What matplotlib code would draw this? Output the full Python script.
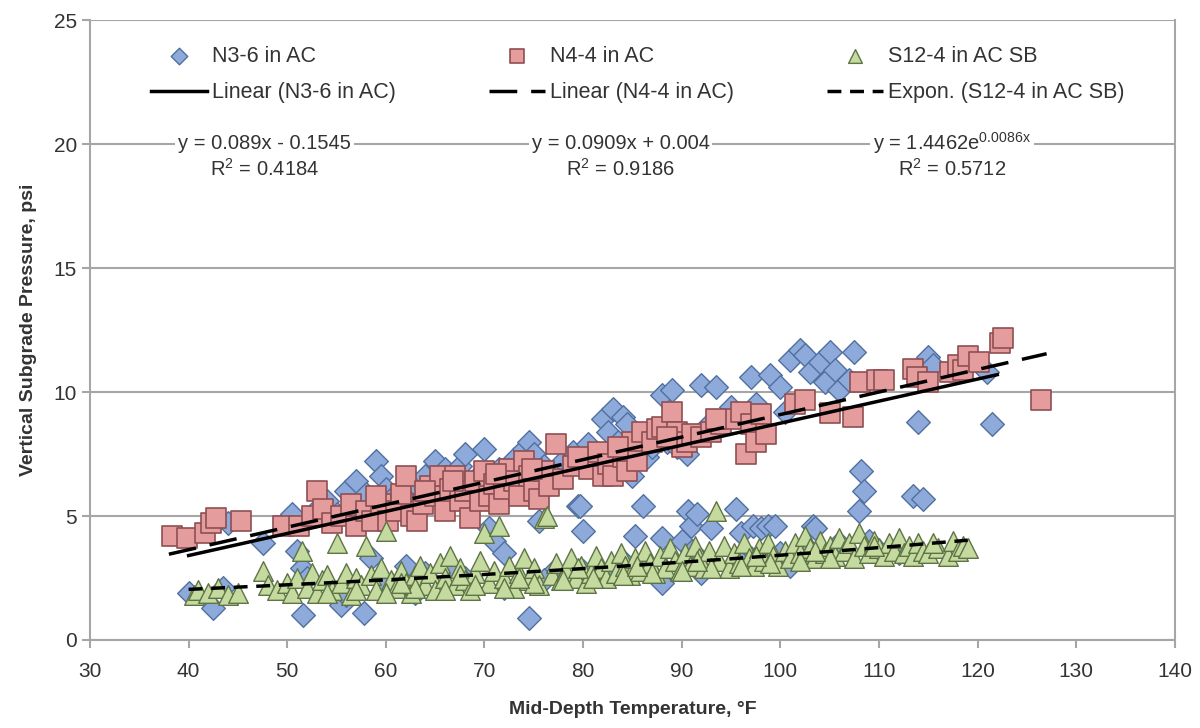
import matplotlib
matplotlib.use("Agg")
import matplotlib.pyplot as plt
import numpy as np

plt.rcParams['font.family'] = ['Liberation Sans', 'DejaVu Sans']
plt.rcParams['mathtext.fontset'] = 'custom'
plt.rcParams['mathtext.rm'] = 'Liberation Sans'
plt.rcParams['mathtext.it'] = 'Liberation Sans'

# ---------------- data ----------------
n36_x = [40, 42.5, 43.5, 44, 47.5, 50.5, 51, 51.5, 51.6, 52, 53, 54, 55, 55.5, 56, 57, 57.8, 58, 58.5, 59,
         59.5, 60, 60.5, 61, 62, 62, 63, 64, 64, 65, 66, 66.5, 67, 67.5, 68, 68.5, 69, 70, 70.5, 71,
         71.5, 72, 72.5, 73, 73.5, 74, 74.5, 74.5, 75, 75.5, 76, 76.5, 77, 78, 79, 79.5, 79.7, 80, 80, 80.5,
         81, 82, 82.5, 83, 83.5, 84, 84, 84.5, 85, 85.3, 85.5, 86.1, 86.5, 87, 88, 88, 88, 88.5, 89, 89.5,
         90, 90, 90.5, 90.6, 90.9, 91, 91.5, 92, 92.5, 93, 93.5, 94, 95, 95.5, 96, 97, 97, 97.2, 97.5, 98,
         98.7, 99, 99.5, 100, 100, 100.5, 101, 102, 102.5, 103, 103, 103.3, 103.5, 104, 104.5, 105, 105.5, 106, 106,
         107, 107.5, 108, 108.2, 108.5, 109, 113.5, 114, 114.5, 115, 115.5, 121, 121.5,
         56, 60, 63, 68, 72, 76, 82, 86, 92, 96, 101, 105, 110, 112]
n36_y = [1.9, 1.3, 2.1, 4.7, 3.9, 5.1, 3.6, 2.9, 1.0, 2.5, 5.3, 5.6, 5.1, 1.4, 6.0, 6.4, 1.1, 5.9, 3.3, 7.2,
         6.6, 6.1, 5.7, 2.2, 5.9, 3.0, 6.3, 6.6, 2.7, 7.2, 6.9, 3.0, 6.2, 7.0, 7.5, 5.5, 6.5, 7.7, 4.5, 4.0,
         6.9, 3.5, 6.5, 7.3, 6.7, 7.7, 0.9, 8.0, 7.5, 4.8, 7.0, 6.3, 2.8, 7.2, 7.6, 5.4, 5.4, 4.4, 2.8, 7.9,
         7.4, 8.9, 8.4, 9.3, 8.0, 9.0, 3.2, 8.7, 6.6, 4.2, 8.1, 5.4, 7.4, 7.8, 9.9, 4.1, 2.3, 8.0, 10.1, 7.8,
         4.0, 3.0, 7.5, 5.2, 4.6, 3.6, 5.1, 10.3, 8.6, 4.5, 10.2, 8.8, 9.4, 5.3, 4.3, 10.6, 3.3, 4.6, 9.5, 4.5,
         4.6, 10.7, 4.6, 10.2, 3.5, 9.2, 11.3, 11.7, 11.5, 10.8, 3.6, 4.6, 4.5, 11.2, 10.4, 11.6, 10.9, 10.1, 3.9,
         10.5, 11.6, 5.2, 6.8, 6.0, 4.0, 5.8, 8.8, 5.7, 11.4, 11.1, 10.8, 8.7,
         1.8, 2.3, 1.9, 2.5, 2.1, 2.4, 2.6, 2.9, 2.7, 3.1, 3.0, 3.4, 3.6, 3.5]

n44_x = [38.3, 39.8, 41.7, 42.3, 42.8, 45.3, 49.6, 51.2, 52.5, 53.0, 53.6, 54.5, 55.5, 56.5, 57.0, 58.0,
         58.6, 59.5, 60.2, 61.0, 61.5, 62.0, 62.5, 63.2, 63.8, 64.5, 65.0, 65.5, 66.0, 66.5, 67.0, 67.5,
         68.0, 68.5, 69.0, 69.5, 70.0, 70.5, 71.0, 71.5, 72.0, 72.5, 73.0, 73.5, 74.0, 74.5, 75.0, 75.5,
         76.0, 76.5, 77.3, 78.0, 79.0, 80.0, 80.6, 81.5, 82.0, 82.5, 83.0, 84.0, 84.5, 85.0, 85.5, 86.0,
         87.0, 87.5, 88.0, 89.0, 89.5, 90.0, 90.5, 91.0, 92.0, 93.0, 94.0, 95.0, 96.0, 96.5, 97.0, 97.5,
         98.0, 98.5, 101.5, 102.5, 105.0, 107.4, 108.1, 109.8, 110.5, 113.5, 113.9, 115.0, 117.2, 118.0,
         118.5, 119.0, 120.1, 122.3, 122.6, 126.4,
         59.0, 64.0, 66.8, 71.2, 74.8, 79.5, 83.5, 88.5, 93.5]
n44_y = [4.2, 4.1, 4.3, 4.7, 4.9, 4.8, 4.6, 4.6, 5.0, 6.0, 5.3, 4.7, 5.0, 5.5, 4.6, 5.2,
         4.8, 5.5, 4.8, 5.2, 5.9, 6.6, 5.0, 4.8, 5.5, 6.2, 5.8, 6.6, 5.2, 6.1, 6.6, 5.6,
         6.0, 4.9, 6.4, 5.6, 6.8, 5.8, 6.3, 5.5, 6.1, 6.9, 6.4, 5.8, 7.2, 6.6, 6.0, 5.7,
         6.8, 6.2, 7.9, 6.5, 7.0, 7.3, 6.9, 7.6, 6.6, 7.1, 6.6, 7.4, 6.8, 8.0, 7.2, 8.4,
         8.0, 8.5, 8.6, 9.2, 8.4, 7.8, 8.0, 8.3, 8.2, 8.4, 8.7, 8.9, 9.2, 7.5, 8.7, 8.0,
         9.1, 8.3, 9.5, 9.7, 9.15, 9.0, 10.4, 10.5, 10.5, 10.95, 10.6, 10.4, 10.8, 11.1,
         10.9, 11.45, 11.2, 12.0, 12.2, 9.7,
         5.8, 6.0, 6.4, 6.7, 6.9, 7.4, 7.8, 8.2, 8.9]

s124_x = [40.5, 41, 42, 43, 44, 45, 47.5, 48, 49, 50, 50.5, 51, 51.5, 52, 52.5, 53, 53.5, 54, 54.5, 55,
          55.5, 56, 56.5, 57, 57.5, 58, 58.5, 59, 59.5, 60, 60.5, 61, 61.5, 62, 62.5, 63, 63.5, 64, 64.5, 65,
          65.5, 66, 66.5, 67, 67.5, 68, 68.5, 69, 69.5, 70, 70.5, 71, 71.5, 72, 72.5, 73, 73.5, 74, 74.5, 75,
          75.5, 76, 76.3, 76.8, 77.3, 77.8, 78.3, 78.8, 79.3, 79.8, 80.3, 80.8, 81.3, 81.8, 82.3, 82.8, 83.3,
          83.8, 84.3, 84.8, 85.3, 85.8, 86.3, 86.8, 87.3, 87.8, 88.3, 88.8, 89.3, 89.8, 90.3, 90.8, 91.3, 91.8,
          92.3, 92.8, 93.5, 93.8, 94.3, 94.8, 95.3, 95.8, 96.3, 96.8, 97.3, 97.8, 98.3, 98.8, 99.3, 99.8,
          100.5, 101, 101.5, 102, 102.5, 103, 103.5, 104, 104.5, 105, 105.5, 106, 106.5, 107, 107.5, 108,
          108.5, 109, 109.5, 110, 110.5, 111, 111.5, 112, 112.5, 113, 113.5, 114, 114.5, 115, 116, 117,
          117.5, 118, 118.5, 119,
          54, 57, 60, 63, 66, 69, 72, 75, 78, 81, 84, 87, 90, 93, 96, 99, 102, 105,
          61.5, 67.5, 73.5, 79.5, 85.5, 91.5, 97.5, 103.5, 109.5, 115.5]
s124_y = [1.8, 2.0, 1.9, 2.1, 1.8, 1.9, 2.8, 2.2, 2.0, 2.3, 1.9, 2.5, 3.6, 2.1, 2.7, 1.9, 2.4, 2.6, 2.0, 3.9,
          2.3, 2.7, 1.8, 2.5, 2.2, 3.8, 2.6, 2.0, 2.9, 4.4, 2.4, 2.1, 2.8, 2.3, 1.9, 2.6, 3.0, 2.2, 2.7, 2.0,
          3.1, 2.5, 3.4, 2.2, 2.9, 2.4, 2.0, 2.7, 3.2, 4.3, 2.3, 2.8, 4.6, 2.5, 3.0, 2.1, 2.7, 3.3, 2.4, 2.9,
          2.2, 4.9, 5.0, 2.6, 3.1, 2.4, 2.8, 3.3, 2.5, 3.0, 2.3, 2.7, 3.4, 2.9, 2.5, 3.2, 2.7,
          3.5, 3.0, 2.6, 3.3, 2.8, 3.6, 3.1, 2.7, 3.4, 2.9, 3.7, 3.2, 2.8, 3.5, 3.0, 3.8, 3.3,
          2.9, 3.6, 5.2, 3.2, 3.8, 2.9, 3.5, 3.1, 3.9, 3.3, 3.0, 3.7, 3.2, 3.9, 3.4, 3.0,
          3.6, 3.3, 3.9, 3.5, 4.2, 3.7, 3.3, 4.0, 3.5, 3.8, 3.4, 4.1, 3.6, 3.9, 3.3, 4.3,
          3.8, 3.5, 4.0, 3.7, 3.4, 3.9, 3.6, 4.1, 3.5, 3.8, 3.4, 3.9, 3.6, 3.5, 3.7, 3.4,
          4.0, 3.6, 3.8, 3.7,
          1.9, 2.0, 1.9, 2.1, 2.0, 2.2, 2.1, 2.3, 2.4, 2.5, 2.6, 2.7, 2.8, 2.9, 3.0, 3.1, 3.2, 3.3,
          2.3, 2.6, 2.5, 2.9, 3.0, 3.2, 3.4, 3.6, 3.8, 3.9]

# trendline coefficients (from the equations shown) and ranges
lin36 = [0.089, -0.1545]
lin44 = [0.0909, 0.004]
exp124 = [1.4462, 0.0086]
rng36 = [40, 122]
rng44 = [38, 127]
rng124 = [40, 119]

# ---------------- figure ----------------
fig = plt.figure(figsize=(12, 7.28), dpi=100)
ax = fig.add_axes([0.075, 0.121, 0.904, 0.851])

grid_c = '#A6A6A6'
txt_c = '#333333'
ax.set_xlim(30, 140)
ax.set_ylim(0, 25)
ax.set_xticks(np.arange(30, 141, 10))
ax.set_yticks(np.arange(0, 26, 5))
ax.yaxis.grid(True, color=grid_c, linewidth=1.5, zorder=0)
ax.set_axisbelow(True)
for s in ['left', 'bottom', 'right']:
    ax.spines[s].set_color(grid_c)
    ax.spines[s].set_linewidth(1.5)
ax.spines['top'].set_visible(False)
ax.tick_params(axis='both', colors=grid_c, labelcolor=txt_c, labelsize=15, length=6, width=1.5)
ax.tick_params(axis='x', pad=10)

h1 = ax.scatter(n36_x, n36_y, marker='D', s=145, facecolor='#8EAADB', edgecolor='#50709F',
                linewidth=1, zorder=3, label='N3-6 in AC')
h2 = ax.scatter(n44_x, n44_y, marker='s', s=210, facecolor='#E59C9C', edgecolor='#8E4F52',
                linewidth=1.2, zorder=4, label='N4-4 in AC')
h3 = ax.scatter(s124_x, s124_y, marker='^', s=200, facecolor='#C4DA9E', edgecolor='#5F7446',
                linewidth=1, zorder=5, label='S12-4 in AC SB')

x1 = np.linspace(rng36[0], rng36[1], 50)
l1, = ax.plot(x1, lin36[0] * x1 + lin36[1], color='black', lw=2.5, zorder=6,
              label='Linear (N3-6 in AC)')
x2 = np.linspace(rng44[0], rng44[1], 50)
l2, = ax.plot(x2, lin44[0] * x2 + lin44[1], color='black', lw=2.5, dashes=(8, 4), zorder=6,
              label='Linear (N4-4 in AC)')
x3 = np.linspace(rng124[0], rng124[1], 200)
l3, = ax.plot(x3, exp124[0] * np.exp(exp124[1] * x3), color='black', lw=2.5, dashes=(4, 2.5),
              zorder=6, label='Expon. (S12-4 in AC SB)')

leg = fig.legend(handles=[h1, l1, h2, l2, h3, l3], ncol=3, loc='upper left',
                 bbox_to_anchor=(151 / 1200, 1 - 46 / 728), frameon=False, fontsize=15.5,
                 columnspacing=4.3, handlelength=2.6, handletextpad=0.25, labelspacing=0.7,
                 borderpad=0, borderaxespad=0, scatterpoints=1, markerscale=0.7)
for t in leg.get_texts():
    t.set_color(txt_c)

bb = dict(facecolor='white', edgecolor='none', pad=2)
eqs = [(47.7, 'y = 0.089x - 0.1545', 'R$^2$ = 0.4184'),
       (83.8, 'y = 0.0909x + 0.004', 'R$^2$ = 0.9186'),
       (117.4, 'y = 1.4462e$^{0.0086x}$', 'R$^2$ = 0.5712')]
for xc, e, r in eqs:
    ax.text(xc, 20.05, e, ha='center', va='center', fontsize=14.5, color=txt_c, bbox=bb, zorder=7)
    ax.text(xc, 19.0, r, ha='center', va='center', fontsize=14.5, color=txt_c, zorder=7)

ax.set_xlabel('Mid-Depth Temperature, °F', fontsize=14, fontweight='bold', color=txt_c, labelpad=14)
ax.set_ylabel('Vertical Subgrade Pressure, psi', fontsize=14, fontweight='bold', color=txt_c, labelpad=12)

fig.savefig('out.png', dpi=100, facecolor='white')
